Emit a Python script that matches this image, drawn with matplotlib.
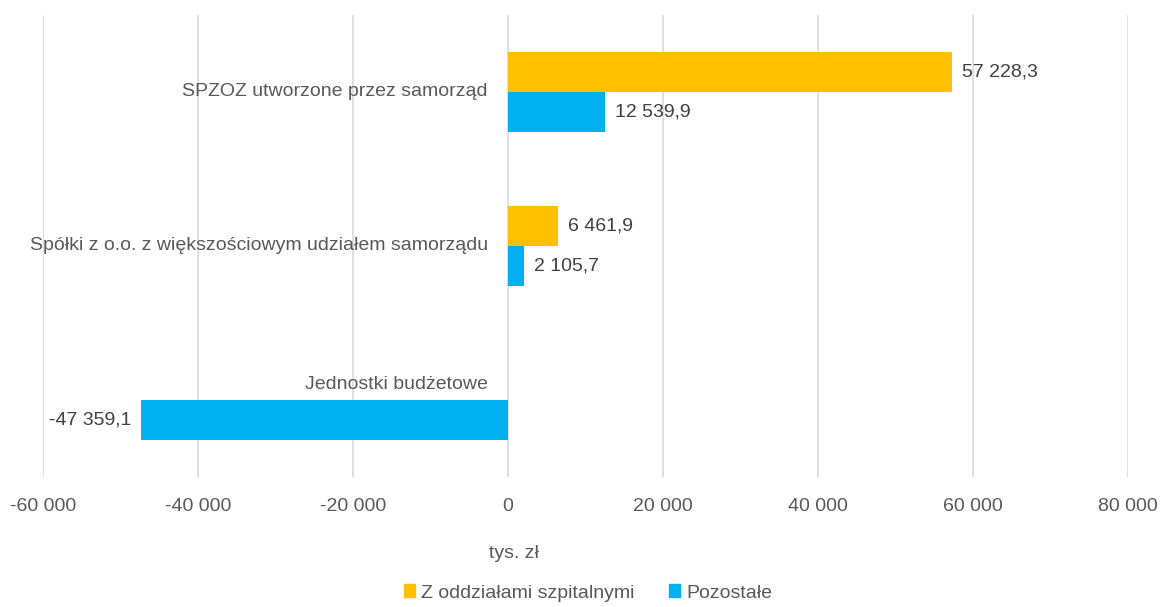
import matplotlib
matplotlib.use("Agg")
import matplotlib.pyplot as plt
from matplotlib.ticker import FuncFormatter
from matplotlib.patches import Patch
import numpy as np

categories = ["SPZOZ utworzone przez samorząd",
              "Spółki z o.o. z większościowym udziałem samorządu",
              "Jednostki budżetowe"]
series_names = ["Z oddziałami szpitalnymi", "Pozostałe"]
z_oddzialami = [57228.3, 6461.9, None]
pozostale = [12539.9, 2105.7, -47359.1]
xticks = [-60000, -40000, -20000, 0, 20000, 40000, 60000, 80000]
unit_label = "tys. zł"

YELLOW = "#FFC000"
BLUE = "#00B0F0"
TXT = "#595959"
DATA_TXT = "#404040"
GRID = "#D9D9D9"

plt.rcParams['font.family'] = ['Liberation Sans', 'DejaVu Sans']

fig = plt.figure(figsize=(11.61, 6.07), dpi=100)
ax = fig.add_axes([43/1161, 1-477/607, (1128-43)/1161, (477-15)/607])

def fmt(v):
    s = f"{abs(v):,.1f}".replace(",", " ").replace(".", ",")
    return ("-" if v < 0 else "") + s

def fmt_tick(v, pos=None):
    s = f"{abs(v):,.0f}".replace(",", " ")
    return ("-" if v < 0 else "") + s

y = np.arange(len(categories))
h = 0.26
fs = 14

for i, v in enumerate(z_oddzialami):
    if v is None:
        continue
    ax.barh(y[i] - h/2, v, height=h, color=YELLOW, zorder=3)
    ax.text(v + 1300, y[i] - h/2, fmt(v), ha='left' if v >= 0 else 'right',
            va='center', fontsize=fs, color=DATA_TXT)
for i, v in enumerate(pozostale):
    ax.barh(y[i] + h/2, v, height=h, color=BLUE, zorder=3)
    off = 1300 if v >= 0 else -1300
    ax.text(v + off, y[i] + h/2, fmt(v), ha='left' if v >= 0 else 'right',
            va='center', fontsize=fs, color=DATA_TXT)

label_offsets = [0, 0, -0.1]
for i, c in enumerate(categories):
    ax.text(-2600, y[i] + label_offsets[i], c, ha='right', va='center',
            fontsize=fs, color=TXT)

ax.set_xlim(-60000, 80000)
ax.set_ylim(2.5, -0.5)
ax.set_xticks(xticks)
ax.xaxis.set_major_formatter(FuncFormatter(fmt_tick))
ax.set_yticks([])
ax.tick_params(axis='x', length=0, pad=15, labelsize=fs, labelcolor=TXT)
for s in ax.spines.values():
    s.set_visible(False)
ax.grid(axis='x', color=GRID, linewidth=1.2, zorder=0)
ax.set_axisbelow(True)

fig.text(514/1161, 1-554/607, unit_label, ha='center', va='center',
         fontsize=fs, color=TXT)

handles = [Patch(color=YELLOW, label=series_names[0]),
           Patch(color=BLUE, label=series_names[1])]
fig.legend(handles=handles, loc='center', bbox_to_anchor=(588/1161, 1-593/607),
           ncol=2, frameon=False, fontsize=fs, labelcolor=TXT,
           handlelength=0.6, handleheight=0.6, handletextpad=0.3, columnspacing=1.75)

fig.savefig("out.png", dpi=100)
